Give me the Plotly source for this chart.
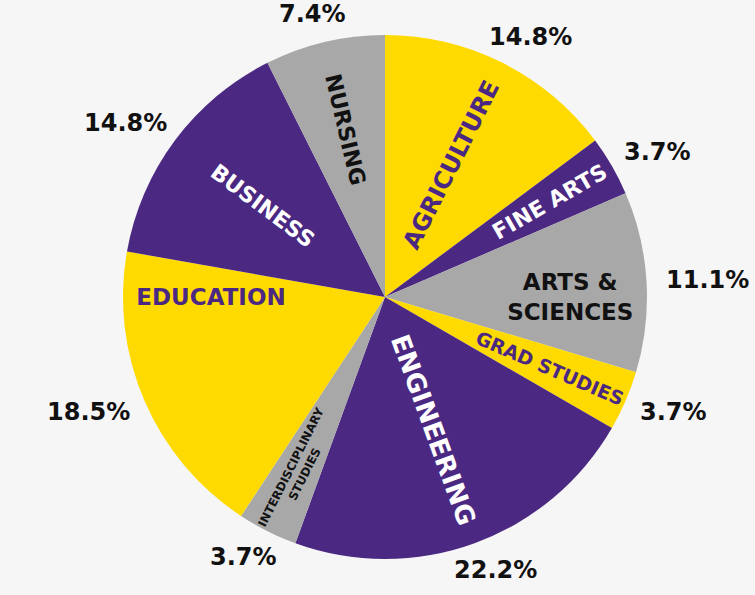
import math
import plotly.graph_objects as go

# ---- data ----
colleges = ["AGRICULTURE", "FINE ARTS", "ARTS &<br>SCIENCES", "GRAD STUDIES",
            "ENGINEERING", "INTERDISCIPLINARY<br>STUDIES", "EDUCATION",
            "BUSINESS", "NURSING"]
shares = [14.8, 3.7, 11.1, 3.7, 22.2, 3.7, 18.5, 14.8, 7.4]
share_labels = ["14.8%", "3.7%", "11.1%", "3.7%", "22.2%", "3.7%", "18.5%", "14.8%", "7.4%"]

# ---- styles ----
YELLOW = "#FFDA00"
PURPLE = "#4B2882"
GRAY = "#A8A8A8"
slice_colors = [YELLOW, PURPLE, GRAY, YELLOW, PURPLE, GRAY, YELLOW, PURPLE, GRAY]
text_colors = [PURPLE, "white", "#111111", PURPLE, "white", "#111111", PURPLE, "white", "#111111"]
text_sizes = [24, 22, 23, 19, 26, 13, 23, 22, 22]

W, H = 755, 595
CX, CY, R = 385, 297, 262
PCT_SIZE = 24

fig = go.Figure(go.Pie(
    labels=colleges,
    values=shares,
    text=colleges,
    textinfo="text",
    textposition="inside",
    insidetextorientation="radial",
    insidetextfont=dict(family="DejaVu Sans", size=text_sizes, color=text_colors, weight="bold"),
    marker=dict(colors=slice_colors, line=dict(width=0)),
    sort=False,
    direction="clockwise",
    rotation=0,
    hoverinfo="none",
    showlegend=False,
    domain=dict(x=[(CX - R) / W, (CX + R) / W], y=[1 - (CY + R) / H, 1 - (CY - R) / H]),
))

# outside percentage labels, positioned from the data's cumulative angles
total = sum(shares)
cum = 0.0
annotations = []
for v, lab in zip(shares, share_labels):
    mid = (cum + v / 2) / total * 2 * math.pi
    cum += v
    s, c = math.sin(mid), math.cos(mid)
    gap = 18
    w_half = 0.36 * PCT_SIZE * len(lab)
    h_half = 0.45 * PCT_SIZE
    px = CX + (R + gap) * s + w_half * s
    py = CY - (R + gap) * c - h_half * c
    annotations.append(dict(
        x=px / W, y=1 - py / H, xref="paper", yref="paper",
        text=lab, showarrow=False, xanchor="center", yanchor="middle",
        font=dict(family="DejaVu Sans", size=PCT_SIZE, color="#111111", weight="bold"),
    ))

fig.update_layout(
    width=W, height=H,
    margin=dict(l=0, r=0, t=0, b=0),
    paper_bgcolor="#F6F6F6",
    plot_bgcolor="#F6F6F6",
    annotations=annotations,
)

fig.write_html(
    "out.html",
    config={"displayModeBar": False},
    post_script="document.body.style.margin='0';document.body.style.background='#F6F6F6';",
)
